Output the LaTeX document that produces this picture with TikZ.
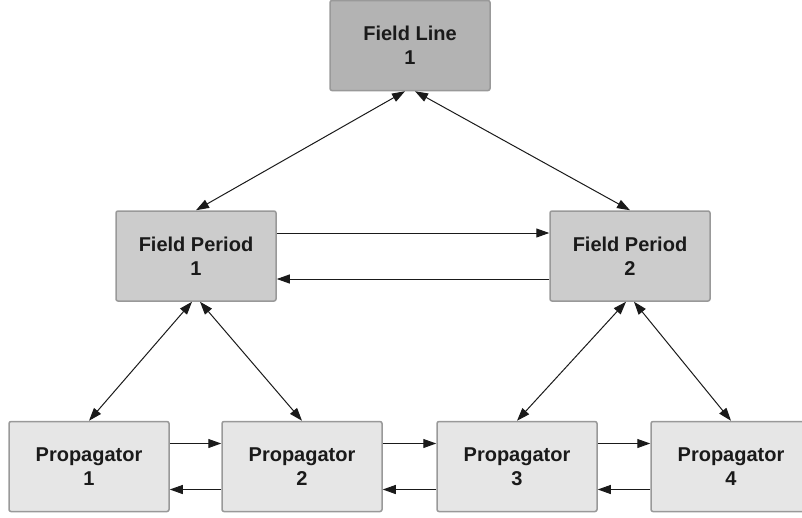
\documentclass[tikz,border=0pt]{standalone}
\usepackage{fontspec}
\setmainfont{Liberation Sans}
\usetikzlibrary{arrows.meta}
\definecolor{boxedge}{HTML}{999999}
\definecolor{lineshade}{HTML}{B3B3B3}
\definecolor{periodshade}{HTML}{CCCCCC}
\definecolor{propshade}{HTML}{E6E6E6}
\definecolor{ink}{HTML}{1A1A1A}
\begin{document}
\begin{tikzpicture}[x=1pt,y=-1pt,
  box/.style={draw=boxedge, line width=1.5pt, rounded corners=2pt,
    minimum width=160pt, minimum height=90pt, inner sep=0pt, align=center,
    font=\fontsize{20}{24}\selectfont\bfseries, text=ink},
  linebox/.style={box, fill=lineshade},
  periodbox/.style={box, fill=periodshade},
  propbox/.style={box, fill=propshade},
  link/.style={draw=ink, line width=1pt, -{Triangle[length=13pt,width=9pt]}},
  duplex/.style={draw=ink, line width=1pt, {Triangle[length=13pt,width=9pt]}-{Triangle[length=13pt,width=9pt]}}]
\useasboundingbox (0,0) rectangle (802,517);
\clip (0,0) rectangle (802,517);

% nodes
\node[linebox]   (fl)  at (410,45.5)  {Field Line\\1};
\node[periodbox] (fp1) at (196,256)   {Field Period\\1};
\node[periodbox] (fp2) at (630,256)   {Field Period\\2};
\node[propbox]   (p1)  at (89,466.5)  {Propagator\\1};
\node[propbox]   (p2)  at (302,466.5) {Propagator\\2};
\node[propbox]   (p3)  at (517,466.5) {Propagator\\3};
\node[propbox]   (p4)  at (731,466.5) {Propagator\\4};

% hierarchy links
\draw[duplex] ([xshift=-5pt]fl.south) -- (fp1.north);
\draw[duplex] ([xshift=5pt]fl.south) -- (fp2.north);
\draw[duplex] ([xshift=-4pt]fp1.south) -- (p1.north);
\draw[duplex] ([xshift=4pt]fp1.south) -- (p2.north);
\draw[duplex] ([xshift=-4pt]fp2.south) -- (p3.north);
\draw[duplex] ([xshift=4pt]fp2.south) -- (p4.north);

% period to period
\draw[link] ([yshift=23pt]fp1.east) -- ([yshift=23pt]fp2.west);
\draw[link] ([yshift=-23pt]fp2.west) -- ([yshift=-23pt]fp1.east);

% propagator chain
\draw[link] ([yshift=23pt]p1.east) -- ([yshift=23pt]p2.west);
\draw[link] ([yshift=-23pt]p2.west) -- ([yshift=-23pt]p1.east);
\draw[link] ([yshift=23pt]p2.east) -- ([yshift=23pt]p3.west);
\draw[link] ([yshift=-23pt]p3.west) -- ([yshift=-23pt]p2.east);
\draw[link] ([yshift=23pt]p3.east) -- ([yshift=23pt]p4.west);
\draw[link] ([yshift=-23pt]p4.west) -- ([yshift=-23pt]p3.east);
\end{tikzpicture}
\end{document}
